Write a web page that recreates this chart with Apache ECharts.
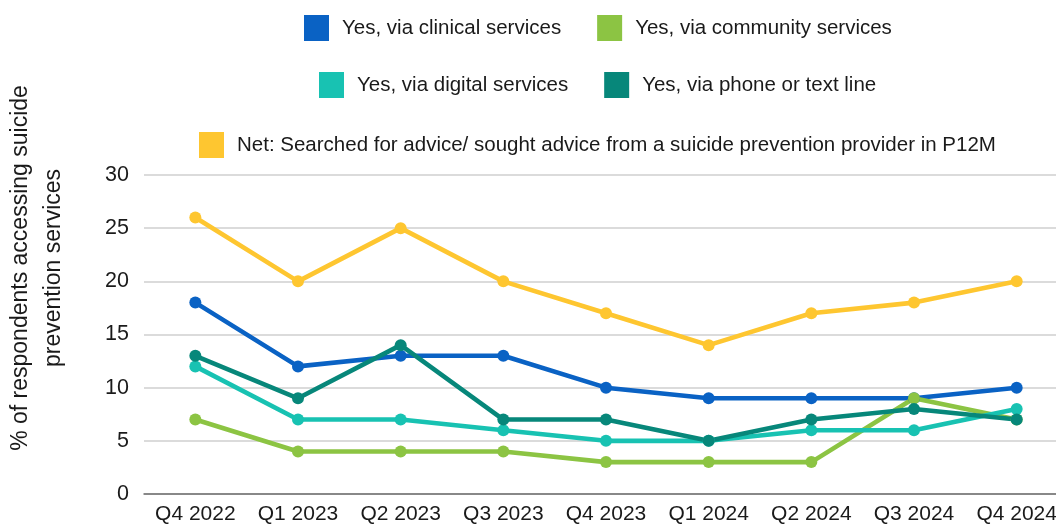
<!DOCTYPE html>
<html>
<head>
<meta charset="utf-8">
<script src="https://cdn.jsdelivr.net/npm/echarts@6/dist/echarts.min.js"></script>
<style>
  html, body { margin: 0; padding: 0; background: #ffffff; }
  #chart { width: 1056px; height: 524px; }
</style>
</head>
<body>
<div id="chart"></div>
<script>
// Quarters surveyed
const quarters = ['Q4 2022', 'Q1 2023', 'Q2 2023', 'Q3 2023', 'Q4 2023', 'Q1 2024', 'Q2 2024', 'Q3 2024', 'Q4 2024'];

// % of respondents, by route of access
const clinical  = [18, 12, 13, 13, 10, 9, 9, 9, 10];
const community = [7, 4, 4, 4, 3, 3, 3, 9, 7];
const digital   = [12, 7, 7, 6, 5, 5, 6, 6, 8];
const phoneText = [13, 9, 14, 7, 7, 5, 7, 8, 7];
const netSought = [26, 20, 25, 20, 17, 14, 17, 18, 20];

// Y-axis tick values
const yTicks = [0, 5, 10, 15, 20, 25, 30];

const seriesNames = [
  'Yes, via clinical services',
  'Yes, via community services',
  'Yes, via digital services',
  'Yes, via phone or text line',
  'Net: Searched for advice/ sought advice from a suicide prevention provider in P12M'
];
const seriesData = [clinical, community, digital, phoneText, netSought];
const palette = ['#0A62C4', '#8CC443', '#18C2B2', '#07877A', '#FEC630'];

const FONT = '"Liberation Sans", Arial, Helvetica, sans-serif';

const chart = echarts.init(document.getElementById('chart'), null, { renderer: 'canvas' });

function legendRow(names, left, top) {
  return {
    data: names,
    left: left,
    top: top,
    orient: 'horizontal',
    icon: 'rect',
    itemWidth: 25,
    itemHeight: 26,
    itemGap: 36,
    selectedMode: false,
    textStyle: { fontFamily: FONT, fontSize: 20.5, color: '#1a1a1a', padding: [0, 0, 0, 8] }
  };
}

const option = {
  animation: false,
  backgroundColor: '#ffffff',
  color: palette,
  legend: [
    legendRow([seriesNames[0], seriesNames[1]], 299, 10),
    legendRow([seriesNames[2], seriesNames[3]], 314, 67),
    legendRow([seriesNames[4]], 194, 127)
  ],
  // the plot runs slightly past the right edge of the canvas
  grid: { left: 144, width: 924, top: 175, bottom: 30, containLabel: false, outerBoundsMode: 'none' },
  xAxis: {
    type: 'category',
    data: quarters,
    boundaryGap: true,
    axisLine: { show: true, lineStyle: { color: '#6e6e6e', width: 1.5 } },
    axisTick: { show: false },
    axisLabel: { interval: 0, fontFamily: FONT, fontSize: 21, color: '#1a1a1a', margin: 10 }
  },
  yAxis: {
    type: 'value',
    min: yTicks[0],
    max: yTicks[yTicks.length - 1],
    interval: yTicks[1] - yTicks[0],
    axisLine: { show: false },
    axisTick: { show: false },
    splitLine: { lineStyle: { color: '#cfcfcf', width: 1.5 } },
    axisLabel: { fontFamily: FONT, fontSize: 21.5, color: '#1a1a1a', margin: 15 }
  },
  graphic: [{
    type: 'text',
    x: 37,
    y: 268,
    rotation: Math.PI / 2,
    style: {
      text: '% of respondents accessing suicide\nprevention services',
      font: '23px ' + FONT,
      fill: '#1a1a1a',
      align: 'center',
      verticalAlign: 'middle',
      lineHeight: 33
    }
  }],
  series: seriesNames.map((name, i) => ({
    name: name,
    type: 'line',
    data: seriesData[i],
    symbol: 'circle',
    symbolSize: 12,
    showSymbol: true,
    lineStyle: { width: 4.6, color: palette[i], cap: 'round', join: 'round' },
    itemStyle: { color: palette[i] },
    emphasis: { disabled: true }
  }))
};

chart.setOption(option);
</script>
</body>
</html>
